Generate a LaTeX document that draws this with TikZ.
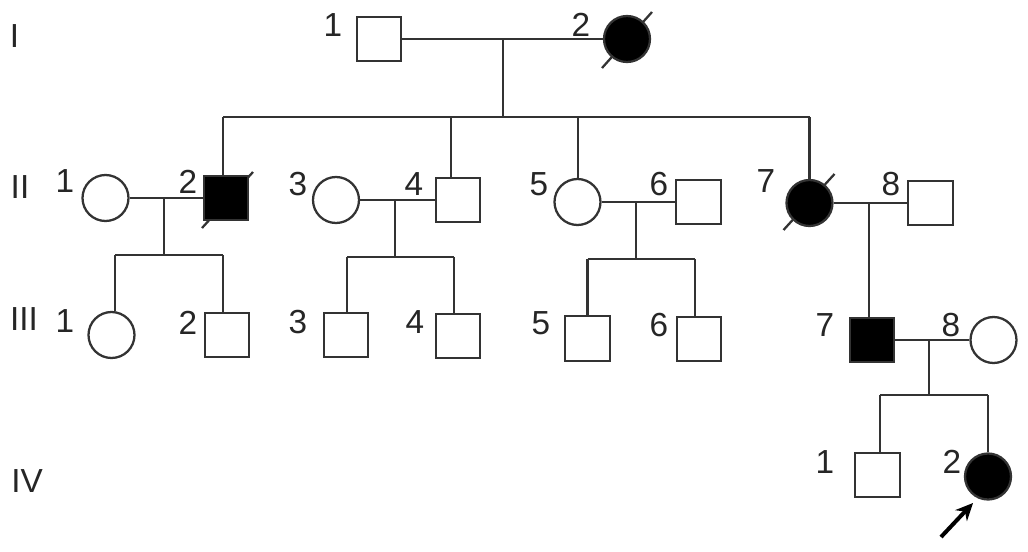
\documentclass[tikz,border=0pt]{standalone}
\usepackage{fontspec}
\setmainfont{Liberation Sans}
\usetikzlibrary{calc,arrows.meta,backgrounds}
\begin{document}
\begin{tikzpicture}[x=0.75pt,y=-0.75pt,
  ln/.style={line width=1.7pt,draw=black!80},
  male/.style={rectangle,draw=black!80,line width=1.7pt,minimum size=33.5pt,inner sep=0pt,fill=white},
  female/.style={circle,draw=black!80,line width=1.7pt,minimum size=34.5pt,inner sep=0pt,fill=white},
  aff/.style={fill=black},
  lbl/.style={inner sep=0pt,font=\fontsize{25}{28}\selectfont,text=black!85},
  dead/.style={line width=1.7pt,draw=black!80}]
\useasboundingbox (0,0) rectangle (1028,551);

% generation labels
\node[lbl] (gI) at (14.5,36) {I};
\node[lbl] (gII) at (20,187) {II};
\node[lbl] (gIII) at (24,319) {III};
\node[lbl] (gIV) at (27,481) {IV};

% generation I
\node[male] (I1) at (379,39) {};
\node[female,aff] (I2) at (627,39) {};
\node[lbl] (nI1) at (333,25) {1};
\node[lbl] (nI2) at (581,25) {2};

% generation II
\node[female] (II1) at (105.5,198) {};
\node[male,aff] (II2) at (226,198) {};
\node[female] (II3) at (336,200) {};
\node[male] (II4) at (458,200) {};
\node[female] (II5) at (577.5,202) {};
\node[male] (II6) at (698.5,202) {};
\node[female,aff] (II7) at (809.5,203) {};
\node[male] (II8) at (930.5,203) {};
\node[lbl] (nII1) at (65,181) {1};
\node[lbl] (nII2) at (188,182) {2};
\node[lbl] (nII3) at (298,184) {3};
\node[lbl] (nII4) at (414,184) {4};
\node[lbl] (nII5) at (539,184) {5};
\node[lbl] (nII6) at (659,184) {6};
\node[lbl] (nII7) at (766,181) {7};
\node[lbl] (nII8) at (891,184) {8};

% generation III
\node[female] (III1) at (111.5,335) {};
\node[male] (III2) at (227,335) {};
\node[male] (III3) at (346,335) {};
\node[male] (III4) at (458,336) {};
\node[male] (III5) at (587.5,338.5) {};
\node[male] (III6) at (699,339) {};
\node[male,aff] (III7) at (872,340) {};
\node[female] (III8) at (993.5,340) {};
\node[lbl] (nIII1) at (65,321) {1};
\node[lbl] (nIII2) at (188,323) {2};
\node[lbl] (nIII3) at (298,322) {3};
\node[lbl] (nIII4) at (415,322) {4};
\node[lbl] (nIII5) at (541,323) {5};
\node[lbl] (nIII6) at (659,325) {6};
\node[lbl] (nIII7) at (825,325) {7};
\node[lbl] (nIII8) at (951,325) {8};

% generation IV
\node[male] (IV1) at (877.5,475) {};
\node[female,aff] (IV2) at (988,476.5) {};
\node[lbl] (nIV1) at (825,462) {1};
\node[lbl] (nIV2) at (952,462) {2};

% deceased slashes (behind the filled symbols)
\begin{pgfonlayer}{background}
\fill[white] (0,0) rectangle (1028,551);
\draw[dead] ($(I2.center)+(-25,29)$) -- ($(I2.center)+(25,-27)$);
\draw[dead] ($(II2.center)+(-24,30)$) -- ($(II2.center)+(27,-26)$);
\draw[dead] ($(II7.center)+(-26,27)$) -- ($(II7.center)+(25,-29)$);
\end{pgfonlayer}

% coordinates
\coordinate (mI) at (503,39);
\coordinate (sI) at (503,117);
\coordinate (dII2) at (223,117);
\coordinate (dII4) at (451,117);
\coordinate (dII5) at (578,117);
\coordinate (dII7) at (809.5,117);

\coordinate (m12) at (164,198);
\coordinate (s12) at (164,255);
\coordinate (d1) at (115,255);
\coordinate (d2) at (223,255);

\coordinate (m34) at (395,200);
\coordinate (s34) at (395,257);
\coordinate (d3) at (347,257);
\coordinate (d4) at (454,257);

\coordinate (m56) at (636,202);
\coordinate (s56) at (636,259);
\coordinate (d5) at (587.5,259);
\coordinate (d6) at (695,259);

\coordinate (m78) at (869,203);

\coordinate (mIII78) at (929,340);
\coordinate (sIII78) at (929,395);
\coordinate (dIV1) at (880,395);
\coordinate (dIV2) at (988,395);

\coordinate (arrtail) at (941,537);
\coordinate (arrtip) at (973,503);

% generation I connectors
\draw[ln] (I1) -- (I2);
\draw[ln] (mI) -- (sI);
\draw[ln] (dII2) -- (dII7);
\draw[ln] (dII2) -- (dII2 |- II2.north);
\draw[ln] (dII4) -- (dII4 |- II4.north);
\draw[ln] (dII5) -- (dII5 |- II5.north);
\draw[ln] (dII7) -- (II7.north);

% generation II connectors
\draw[ln] (II1) -- (II2);
\draw[ln] (m12) -- (s12);
\draw[ln] (d1) -- (d2);
\draw[ln] (d1) -- (d1 |- III1.north);
\draw[ln] (d2) -- (d2 |- III2.north);

\draw[ln] (II3) -- (II4);
\draw[ln] (m34) -- (s34);
\draw[ln] (d3) -- (d4);
\draw[ln] (d3) -- (d3 |- III3.north);
\draw[ln] (d4) -- (d4 |- III4.north);

\draw[ln] (II5) -- (II6);
\draw[ln] (m56) -- (s56);
\draw[ln] (d5) -- (d6);
\draw[ln] (d5) -- (d5 |- III5.north);
\draw[ln] (d6) -- (d6 |- III6.north);

\draw[ln] (II7) -- (II8);
\draw[ln] (m78) -- (m78 |- III7.north);

% generation III connectors
\draw[ln] (III7) -- (III8);
\draw[ln] (mIII78) -- (sIII78);
\draw[ln] (dIV1) -- (dIV2);
\draw[ln] (dIV1) -- (dIV1 |- IV1.north);
\draw[ln] (dIV2) -- (IV2.north);

% proband arrow
\draw[line width=3pt,draw=black,-{Stealth[length=13pt,width=12pt]}] (arrtail) -- (arrtip);
\end{tikzpicture}
\end{document}
